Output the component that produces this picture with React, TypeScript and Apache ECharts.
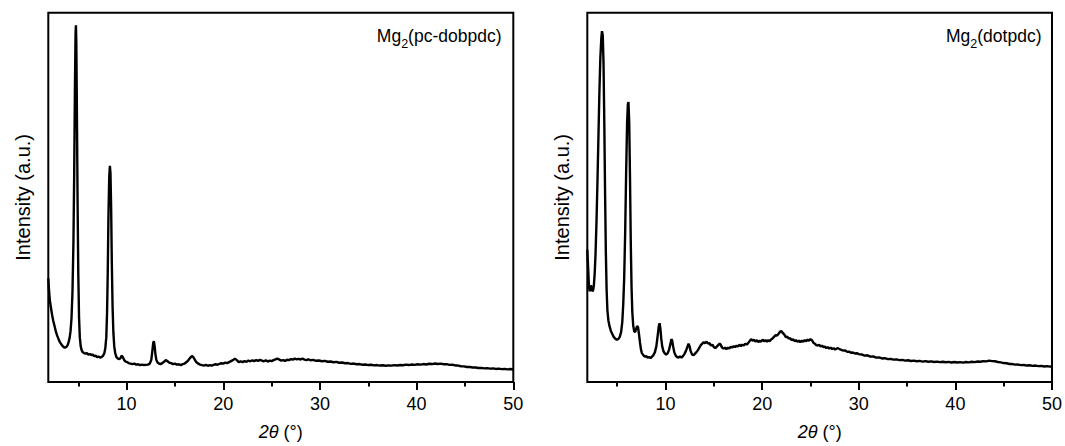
import React, { useEffect, useRef } from "react";
import * as echarts from "echarts";

// Powder X-ray diffraction patterns, [2θ (°), intensity (a.u.)]
const pcDobpdc: [number, number][] = [
  [1.9, 104], [1.95, 96], [2.0, 89], [2.05, 83], [2.1, 79], [2.2, 73], [2.3, 67], [2.4, 62], [2.5, 58],
  [2.6, 54], [2.7, 50], [2.8, 47], [2.9, 44.5], [3.0, 42], [3.1, 40], [3.2, 38.5], [3.3, 37], [3.4, 36],
  [3.5, 35], [3.6, 34.5], [3.7, 34.8], [3.8, 35.5], [3.9, 37], [4.0, 40], [4.1, 44], [4.2, 51], [4.3, 64],
  [4.4, 90], [4.5, 140], [4.58, 210], [4.65, 290], [4.72, 350], [4.76, 358], [4.8, 340], [4.86, 270],
  [4.93, 180], [5.0, 110], [5.08, 65], [5.16, 45], [5.25, 36], [5.35, 32], [5.45, 30], [5.6, 29],
  [5.75, 28.5], [5.9, 29], [6.05, 27.5], [6.2, 28], [6.35, 27], [6.5, 27.5], [6.65, 26], [6.8, 26.5],
  [6.95, 25], [7.1, 25.5], [7.25, 24.5], [7.4, 25], [7.55, 26], [7.7, 29], [7.8, 34], [7.9, 45],
  [7.98, 70], [8.05, 110], [8.12, 165], [8.2, 205], [8.27, 217], [8.33, 210], [8.4, 175], [8.47, 120],
  [8.55, 75], [8.63, 50], [8.72, 36], [8.82, 29], [8.95, 25], [9.1, 23.5], [9.25, 23], [9.4, 24.5],
  [9.5, 26.5], [9.6, 25], [9.75, 22], [9.9, 20.5], [10.05, 20], [10.2, 19], [10.4, 18.5], [10.6, 18],
  [10.8, 18.5], [11.0, 17.5], [11.2, 17.8], [11.4, 17], [11.6, 17.5], [11.8, 17], [12.0, 17.2],
  [12.2, 17.5], [12.4, 18.5], [12.55, 22], [12.65, 30], [12.75, 39], [12.82, 41], [12.9, 36],
  [12.98, 28], [13.08, 22], [13.2, 19.5], [13.35, 18.5], [13.5, 18], [13.7, 19], [13.9, 20.5],
  [14.05, 22], [14.2, 21], [14.4, 19.5], [14.6, 19], [14.8, 18], [15.0, 18.5], [15.2, 17.5],
  [15.4, 17.8], [15.6, 17], [15.8, 18], [16.0, 18.5], [16.2, 20], [16.4, 22], [16.6, 24.5],
  [16.75, 26], [16.9, 25], [17.05, 22.5], [17.2, 20], [17.4, 18.5], [17.6, 17.5], [17.8, 17],
  [18.0, 16.5], [18.2, 17.2], [18.4, 16.3], [18.6, 17], [18.8, 16.5], [19.0, 17.2], [19.2, 17.8],
  [19.4, 17.3], [19.6, 18.2], [19.8, 18.8], [20.0, 18.5], [20.2, 19.5], [20.4, 19], [20.6, 20],
  [20.8, 21], [21.0, 22], [21.2, 23.5], [21.4, 22], [21.6, 20], [21.8, 20.8], [22.0, 20], [22.2, 21],
  [22.4, 20.2], [22.6, 21.5], [22.8, 20.8], [23.0, 21.8], [23.2, 21], [23.4, 22], [23.6, 21.2],
  [23.8, 22.2], [24.0, 21.5], [24.2, 20.8], [24.4, 21.8], [24.6, 20.5], [24.8, 21.5], [25.0, 21],
  [25.2, 22], [25.4, 22.8], [25.6, 23.5], [25.8, 22.5], [26.0, 21.5], [26.2, 22], [26.4, 21.2],
  [26.6, 22.3], [26.8, 22], [27.0, 23], [27.2, 22.5], [27.4, 23.5], [27.6, 22.8], [27.8, 23.2],
  [28.0, 22.6], [28.2, 23.4], [28.4, 22.5], [28.6, 22], [28.8, 22.8], [29.0, 21.8], [29.3, 22.2],
  [29.6, 21.3], [29.9, 21.6], [30.2, 20.8], [30.5, 21.2], [30.8, 20.3], [31.1, 20.6], [31.4, 19.8],
  [31.7, 20.2], [32.0, 19.3], [32.3, 19.6], [32.6, 18.8], [32.9, 19], [33.2, 18.2], [33.5, 18.5],
  [33.8, 17.8], [34.1, 18], [34.4, 17.3], [34.7, 17.6], [35.0, 17], [35.3, 17.3], [35.6, 16.7],
  [35.9, 17], [36.2, 16.5], [36.5, 16.8], [36.8, 16.3], [37.1, 16.7], [37.4, 16.4], [37.7, 16.9],
  [38.0, 16.6], [38.3, 17.1], [38.6, 16.8], [38.9, 17.4], [39.2, 17], [39.5, 17.6], [39.8, 17.2],
  [40.1, 17.8], [40.4, 17.4], [40.7, 18], [41.0, 17.6], [41.3, 18.3], [41.6, 18], [41.9, 18.6],
  [42.2, 18.1], [42.5, 18.4], [42.8, 17.8], [43.1, 17.9], [43.4, 17.2], [43.7, 17.3], [44.0, 16.6],
  [44.3, 16.5], [44.6, 15.8], [44.9, 15.7], [45.2, 15.1], [45.5, 15], [45.8, 14.5], [46.1, 14.6],
  [46.4, 14], [46.7, 14.2], [47.0, 13.7], [47.3, 13.9], [47.6, 13.4], [47.9, 13.7], [48.2, 13.1],
  [48.5, 13.4], [48.8, 12.9], [49.1, 13.2], [49.4, 12.7], [49.7, 13], [50.0, 12.6],
];

const dotpdc: [number, number][] = [
  [1.9, 133], [1.95, 122], [2.0, 112], [2.05, 100], [2.1, 94], [2.15, 91], [2.2, 93], [2.27, 97],
  [2.35, 95], [2.42, 91], [2.5, 92], [2.58, 97], [2.66, 108], [2.75, 128], [2.85, 160], [2.95, 200],
  [3.05, 245], [3.15, 290], [3.25, 325], [3.35, 345], [3.42, 352], [3.5, 348], [3.58, 320], [3.66, 260],
  [3.74, 190], [3.82, 130], [3.9, 92], [3.98, 72], [4.08, 62], [4.2, 56], [4.35, 51], [4.5, 48],
  [4.65, 45], [4.8, 43.5], [4.95, 42.5], [5.1, 43], [5.25, 45], [5.4, 50], [5.52, 60], [5.62, 78],
  [5.72, 105], [5.82, 150], [5.92, 210], [6.02, 260], [6.1, 279], [6.16, 281], [6.24, 260], [6.32, 205],
  [6.4, 140], [6.48, 95], [6.56, 70], [6.65, 57], [6.75, 51], [6.85, 50], [6.95, 53], [7.05, 56],
  [7.15, 55], [7.25, 48], [7.35, 40], [7.45, 33], [7.55, 29], [7.7, 27], [7.85, 25.5], [8.0, 26],
  [8.15, 24.5], [8.3, 25], [8.45, 24], [8.6, 25.5], [8.75, 27], [8.9, 30], [9.05, 36], [9.18, 46],
  [9.3, 56], [9.38, 59], [9.46, 54], [9.55, 44], [9.65, 36], [9.78, 31], [9.9, 29], [10.05, 27.5],
  [10.2, 28.5], [10.35, 32], [10.5, 38], [10.6, 43], [10.68, 42], [10.78, 36], [10.9, 30], [11.05, 26.5],
  [11.2, 25], [11.35, 24.5], [11.5, 25.5], [11.65, 24.5], [11.8, 26], [11.95, 28], [12.1, 31],
  [12.25, 35], [12.38, 38.5], [12.48, 36], [12.6, 31], [12.75, 27.5], [12.9, 27], [13.05, 28.5],
  [13.2, 30], [13.35, 32], [13.5, 34.5], [13.65, 37], [13.8, 38.5], [13.95, 40], [14.1, 39],
  [14.25, 40.5], [14.4, 38.5], [14.55, 39], [14.7, 36.5], [14.85, 37.5], [15.0, 35], [15.15, 34],
  [15.3, 35.5], [15.45, 37], [15.6, 38.5], [15.7, 37.5], [15.85, 34.5], [16.0, 33.5], [16.15, 34.5],
  [16.3, 33], [16.45, 34.5], [16.6, 33.5], [16.75, 35.5], [16.9, 34.5], [17.05, 36], [17.2, 35],
  [17.35, 36.5], [17.5, 35.5], [17.65, 37.5], [17.8, 36], [17.95, 37.5], [18.1, 36.5], [18.25, 38.5],
  [18.4, 37.5], [18.55, 39], [18.7, 41], [18.85, 43], [19.0, 41.5], [19.15, 42.5], [19.3, 40.5],
  [19.45, 42], [19.6, 40], [19.75, 41.5], [19.9, 40.5], [20.05, 42.5], [20.2, 41], [20.35, 42],
  [20.5, 40.5], [20.65, 42], [20.8, 41], [20.95, 43], [21.1, 44], [21.25, 45.5], [21.4, 47],
  [21.55, 46.5], [21.7, 48.5], [21.85, 50.5], [22.0, 51], [22.15, 49], [22.3, 47.5], [22.45, 45],
  [22.6, 45.5], [22.75, 43.5], [22.9, 44], [23.05, 42], [23.2, 43], [23.35, 41], [23.5, 42],
  [23.65, 40.5], [23.8, 41.5], [23.95, 40], [24.1, 41.5], [24.25, 40.5], [24.4, 42], [24.55, 41],
  [24.7, 42.5], [24.85, 41.5], [25.0, 43], [25.15, 42], [25.3, 39.5], [25.45, 38.5], [25.6, 37],
  [25.75, 36.5], [25.9, 37.5], [26.05, 35.5], [26.2, 36.5], [26.35, 35], [26.5, 35.5], [26.65, 34],
  [26.8, 35], [26.95, 33.5], [27.1, 34.5], [27.25, 33], [27.4, 34], [27.55, 32.5], [27.7, 33.5],
  [27.85, 34], [28.0, 33], [28.2, 32.2], [28.4, 31.5], [28.6, 31.8], [28.8, 30.2], [29.0, 30.5],
  [29.2, 29.3], [29.4, 29.6], [29.6, 28.6], [29.8, 28.9], [30.0, 28], [30.3, 27.6], [30.6, 26.5],
  [30.9, 26.8], [31.2, 25.5], [31.5, 25.6], [31.8, 24.5], [32.1, 24.7], [32.4, 23.6], [32.7, 23.9],
  [33.0, 23], [33.3, 23.2], [33.6, 22.4], [33.9, 22.7], [34.2, 21.9], [34.5, 22.2], [34.8, 21.5],
  [35.1, 21.8], [35.4, 21.1], [35.7, 21.4], [36.0, 20.8], [36.3, 21.2], [36.6, 20.5], [36.9, 20.9],
  [37.2, 20.3], [37.5, 20.7], [37.8, 20.1], [38.1, 20.5], [38.4, 19.9], [38.7, 20.3], [39.0, 19.8],
  [39.3, 20.2], [39.6, 19.6], [39.9, 20.1], [40.2, 19.6], [40.5, 20], [40.8, 19.5], [41.1, 20.1],
  [41.4, 19.7], [41.7, 20.3], [42.0, 20], [42.3, 20.6], [42.6, 20.3], [42.9, 21], [43.2, 20.7],
  [43.5, 21.4], [43.8, 21], [44.1, 20.8], [44.4, 20.1], [44.7, 19.7], [45.0, 19], [45.3, 18.8],
  [45.6, 18.1], [45.9, 18], [46.2, 17.4], [46.5, 17.5], [46.8, 16.9], [47.1, 17.1], [47.4, 16.5],
  [47.7, 16.8], [48.0, 16.2], [48.3, 16.5], [48.6, 15.9], [48.9, 16.2], [49.2, 15.6], [49.5, 15.9],
  [49.8, 15.4], [50.0, 15.6],
];

const majorTicks = [10, 20, 30, 40, 50];
const minorTicks = [5, 15, 25, 35, 45];
const sampleNames = ["pc-dobpdc", "dotpdc"];

const FONT = "'Liberation Sans', Arial, Helvetica, sans-serif";
const X_MIN = 1.9;
const X_MAX = 50;
const Y_MAX = 370.6;

const grids = [
  { left: 48.3, top: 12.7, width: 465, height: 370.6 },
  { left: 587.3, top: 12.7, width: 465.4, height: 370.6 },
];

export default function App() {
  const ref = useRef<HTMLDivElement>(null);

  useEffect(() => {
    document.body.style.margin = "0";
    if (!ref.current) return;
    const chart = echarts.init(ref.current, undefined, { renderer: "svg" });

    const xAxes: any[] = [];
    const yAxes: any[] = [];
    grids.forEach((_, i) => {
      xAxes.push({
        type: "value",
        gridIndex: i,
        min: X_MIN,
        max: X_MAX,
        position: "bottom",
        name: "{i|2θ} (°)",
        nameLocation: "middle",
        nameGap: 41,
        nameTextStyle: {
          fontFamily: FONT,
          fontSize: 18,
          color: "#000",
          rich: { i: { fontFamily: FONT, fontSize: 18, fontStyle: "italic", color: "#000" } },
        },
        axisLine: { show: false },
        splitLine: { show: false },
        axisTick: {
          show: true,
          length: 8,
          customValues: majorTicks,
          lineStyle: { color: "#000", width: 2 },
        },
        axisLabel: {
          show: true,
          customValues: majorTicks,
          margin: 13,
          fontFamily: FONT,
          fontSize: 18,
          color: "#000",
        },
      });
      xAxes.push({
        type: "value",
        gridIndex: i,
        min: X_MIN,
        max: X_MAX,
        position: "bottom",
        offset: 0,
        axisLine: { show: false },
        splitLine: { show: false },
        axisTick: {
          show: true,
          length: 4.5,
          customValues: minorTicks,
          lineStyle: { color: "#000", width: 2 },
        },
        axisLabel: { show: false },
      });
      yAxes.push({
        type: "value",
        gridIndex: i,
        min: 0,
        max: Y_MAX,
        name: "Intensity (a.u.)",
        nameLocation: "middle",
        nameGap: 15,
        nameTextStyle: { fontFamily: FONT, fontSize: 20, color: "#000" },
        axisLine: { show: false },
        axisTick: { show: false },
        axisLabel: { show: false },
        splitLine: { show: false },
      });
    });

    const titleRich = {
      n: { fontFamily: FONT, fontSize: 17.5, fontWeight: "normal", color: "#000", lineHeight: 29 },
      s: {
        fontFamily: FONT,
        fontSize: 12.5,
        fontWeight: "normal",
        color: "#000",
        lineHeight: 29,
        verticalAlign: "bottom",
      },
    };

    chart.setOption({
      animation: false,
      backgroundColor: "#fff",
      grid: grids.map((g) => ({
        ...g,
        show: true,
        borderColor: "#000",
        borderWidth: 2,
        backgroundColor: "transparent",
        containLabel: false,
      })),
      title: [
        {
          text: `{n|Mg}{s|2}{n|(${sampleNames[0]})}`,
          right: 563.5,
          top: 21,
          padding: 0,
          textStyle: { fontWeight: "normal", rich: titleRich },
        },
        {
          text: `{n|Mg}{s|2}{n|(${sampleNames[1]})}`,
          right: 23.5,
          top: 21,
          padding: 0,
          textStyle: { fontWeight: "normal", rich: titleRich },
        },
      ],
      xAxis: xAxes,
      yAxis: yAxes,
      series: [
        {
          type: "line",
          name: sampleNames[0],
          xAxisIndex: 0,
          yAxisIndex: 0,
          data: pcDobpdc,
          showSymbol: false,
          clip: true,
          lineStyle: { color: "#000", width: 2.4 },
        },
        {
          type: "line",
          name: sampleNames[1],
          xAxisIndex: 2,
          yAxisIndex: 1,
          data: dotpdc,
          showSymbol: false,
          clip: true,
          lineStyle: { color: "#000", width: 2.4 },
        },
      ],
    });

    return () => chart.dispose();
  }, []);

  return <div ref={ref} style={{ width: 1065, height: 446 }} />;
}
